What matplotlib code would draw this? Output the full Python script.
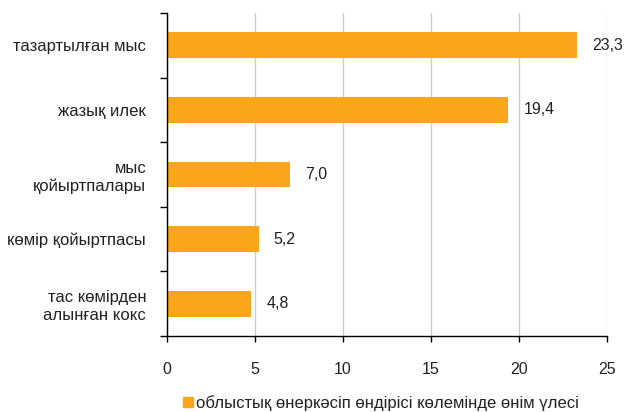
import matplotlib
matplotlib.use("Agg")
import matplotlib.pyplot as plt
from matplotlib.patches import Patch

categories = ["тазартылған мыс", "жазық илек", "мыс\nқойыртпалары",
              "көмір қойыртпасы", "тас көмірден\nалынған кокс"]
values = [23.3, 19.4, 7.0, 5.2, 4.8]
value_labels = ["23,3", "19,4", "7,0", "5,2", "4,8"]
xticks = [0, 5, 10, 15, 20, 25]
legend_label = "облыстық өнеркәсіп өндірісі көлемінде өнім үлесі"

plt.rcParams['font.family'] = ['Liberation Sans', 'DejaVu Sans']
color = "#F9A61C"
txt = "#222222"

fig = plt.figure(figsize=(6.25, 4.12), dpi=100)
ax = fig.add_axes([167/625, 1-336/412, 440/625, 323/412])

y = list(range(len(categories)))
ax.barh(y, values, height=0.4, color=color, zorder=3)
ax.set_ylim(len(categories)-0.5, -0.5)
ax.set_xlim(0, 25)
ax.set_xticks(xticks)
ax.set_xticklabels([str(t) for t in xticks], fontsize=11.5, color=txt)
ax.set_yticks([i - 0.5 for i in range(len(categories)+1)])
ax.set_yticklabels([])
ax.set_yticks(y, minor=True)
ax.set_yticklabels(categories, minor=True, fontsize=12, color=txt,
                   linespacing=1.25, ha='right')
ax.tick_params(axis='y', which='minor', length=0, pad=15)
ax.tick_params(axis='y', which='major', length=5, width=1, color='black')
ax.tick_params(axis='x', length=4, width=1, pad=15, color='black')

ax.grid(axis='x', color='#cccccc', linewidth=1, zorder=0)
for s in ['top', 'right']:
    ax.spines[s].set_visible(False)
for s in ['left', 'bottom']:
    ax.spines[s].set_color('black')
    ax.spines[s].set_linewidth(1)
    ax.spines[s].set_zorder(4)

for yi, v, lab in zip(y, values, value_labels):
    ax.annotate(lab, (v, yi), xytext=(11, 0), textcoords='offset points',
                va='center', ha='left', fontsize=11.5, color=txt)

fig.legend(handles=[Patch(color=color)], labels=[legend_label],
           loc='center', bbox_to_anchor=(381/625, 1-403/412), frameon=False,
           fontsize=12, handlelength=0.6, handleheight=0.6,
           handletextpad=0.2, labelcolor=txt)

fig.savefig("out.png", dpi=100)
